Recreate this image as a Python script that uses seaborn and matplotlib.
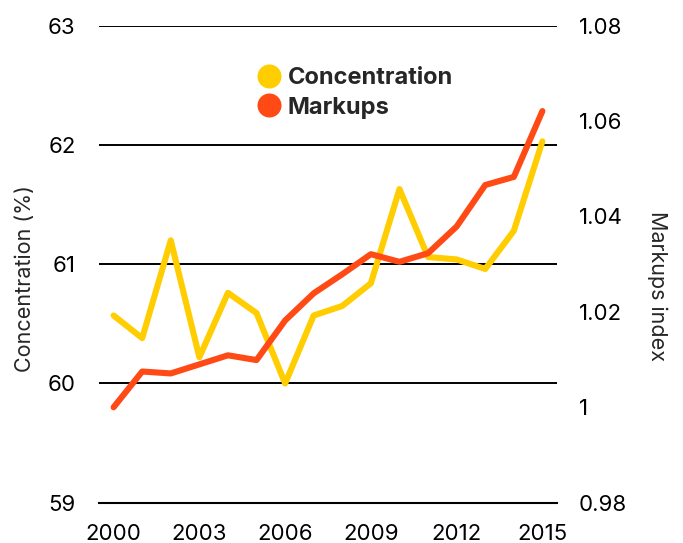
import numpy as np
import pandas as pd
import matplotlib
matplotlib.use("Agg")
import matplotlib.pyplot as plt
import seaborn as sns
from matplotlib.lines import Line2D
from matplotlib.ticker import FuncFormatter

# Series values
years = list(range(2000, 2016))
concentration = [60.57, 60.38, 61.20, 60.22, 60.76, 60.59, 60.00, 60.57,
                 60.65, 60.84, 61.63, 61.06, 61.04, 60.96, 61.28, 62.03]
markups = [1.000, 1.0075, 1.0071, 1.0090, 1.0109, 1.0099, 1.0182, 1.0239,
           1.0279, 1.0321, 1.0305, 1.0323, 1.0379, 1.0466, 1.0483, 1.0621]

# Axis ticks
left_ticks = [59, 60, 61, 62, 63]
right_ticks = [0.98, 1.00, 1.02, 1.04, 1.06, 1.08]
label_years = years[::3]

series_names = ["Concentration", "Markups"]
colors = ["#FFCD00", "#FF4A16"]

df = pd.DataFrame({"year": years, "concentration": concentration, "markups": markups})
df["pos"] = np.arange(len(df))

sns.set_style("white")
plt.rcParams["font.family"] = ["Inter", "DejaVu Sans"]

W, H = 683, 543
fig = plt.figure(figsize=(W / 100, H / 100), dpi=100)
ax = fig.add_axes([99.3 / W, 40.3 / H, 457.4 / W, 477 / H])

line_kw = dict(linewidth=4.4, solid_capstyle="round", solid_joinstyle="round")
sns.lineplot(data=df, x="pos", y="concentration", ax=ax, color=colors[0], **line_kw)
ax2 = ax.twinx()
sns.lineplot(data=df, x="pos", y="markups", ax=ax2, color=colors[1], **line_kw)

ax.set_xlim(-0.5, len(years) - 0.5)
ax.set_ylim(59, 63)
ax2.set_ylim(0.98, 1.08)

# Category-style x axis: labels at centres, tick marks between categories
label_pos = [years.index(y) for y in label_years]
ax.set_xticks(label_pos)
ax.set_xticklabels([str(y) for y in label_years])
ax.set_xticks([p - 0.5 for p in label_pos], minor=True)
ax.tick_params(axis="x", which="major", length=0, pad=15.5, labelsize=16, colors="black")
ax.tick_params(axis="x", which="minor", length=6, width=1.5, color="black")

ax.set_yticks(left_ticks)
ax.set_yticklabels([str(v) for v in left_ticks])
ax.tick_params(axis="y", length=0, pad=17, labelsize=16, colors="black")
ax.yaxis.grid(True, color="black", linewidth=1.4)
ax.xaxis.grid(False)
ax.set_axisbelow(True)

ax2.set_yticks(right_ticks)
ax2.yaxis.set_major_formatter(FuncFormatter(lambda v, p: f"{v:g}"))
ax2.tick_params(axis="y", length=0, pad=16, labelsize=16, colors="black")
ax2.grid(False)

for name, sp in ax.spines.items():
    sp.set_visible(name == "bottom")
ax.spines["bottom"].set_color("black")
ax.spines["bottom"].set_linewidth(1.5)
for sp in ax2.spines.values():
    sp.set_visible(False)

ax.set_xlabel("")
ax.set_ylabel("")
ax2.set_ylabel("")

fig.text(25 / W, 1 - 278 / H, "Concentration (%)", rotation=90,
         ha="center", va="center", fontsize=15.5)
fig.text(657 / W, 1 - 286 / H, "Markups index", rotation=-90,
         ha="center", va="center", fontsize=15.5)

handles = [Line2D([], [], linestyle="none", marker="o", markersize=17.3,
                  markerfacecolor=c, markeredgewidth=0) for c in colors]
leg = ax.legend(handles, series_names, loc="upper left",
                bbox_to_anchor=(257 / W, 1 - 67.5 / H), bbox_transform=fig.transFigure,
                frameon=False, borderpad=0, borderaxespad=0,
                handlelength=1.03, handletextpad=0.28, labelspacing=0.3,
                prop={"size": 17, "weight": "bold"})

fig.savefig("out.png", dpi=100)
